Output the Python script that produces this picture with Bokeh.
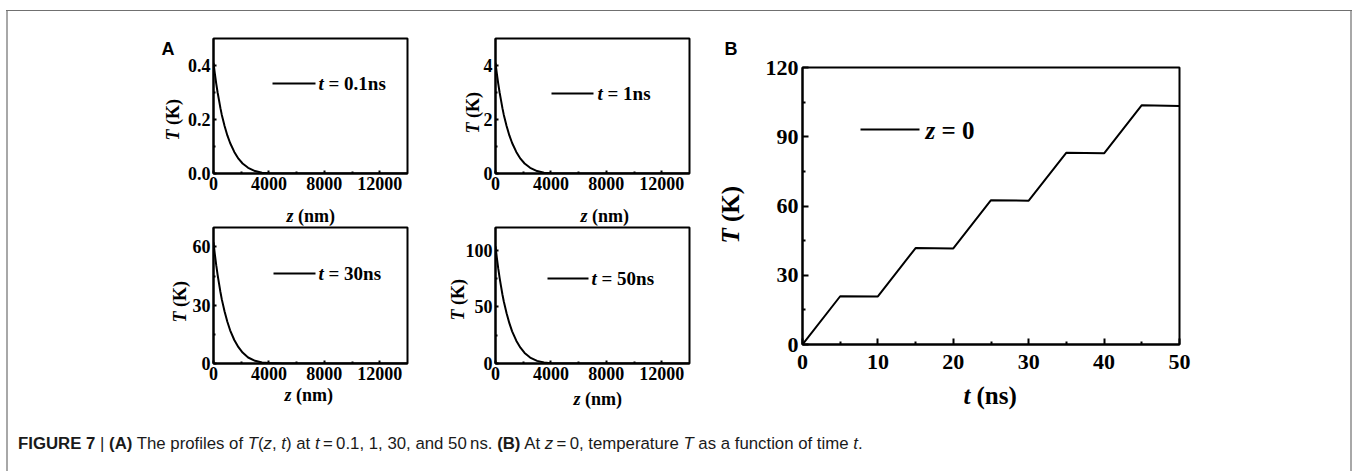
import math
from bokeh.plotting import figure
from bokeh.layouts import row, column
from bokeh.models import (Range1d, FixedTicker, PrintfTickFormatter, Label,
                          Arrow, Div, Spacer, GridBox)
from bokeh.embed import file_html
from bokeh.resources import INLINE

# ---- (A) temperature profiles T(z, t) ----
z_nm = [0, 100, 200, 300, 400, 500, 600, 800, 1000, 1200, 1500, 1800, 2100,
        2500, 3000, 3500, 4000, 5000, 7000, 10000, 14000]
T_t01 = [0.41, 0.369, 0.332, 0.299, 0.271, 0.242, 0.217, 0.176, 0.141, 0.113,
         0.080, 0.055, 0.037, 0.021, 0.009, 0.003, 0.001, 0.0002, 0, 0, 0]
T_t1 = [4.1, 3.69, 3.32, 2.99, 2.71, 2.42, 2.17, 1.76, 1.41, 1.13, 0.80, 0.55,
        0.37, 0.21, 0.09, 0.03, 0.01, 0.002, 0, 0, 0]
T_t30 = [62.3, 56.1, 50.5, 45.5, 41.1, 36.8, 33.0, 26.8, 21.5, 17.1, 12.1, 8.4,
         5.6, 3.1, 1.4, 0.5, 0.2, 0.03, 0, 0, 0]
T_t50 = [103.3, 93.0, 83.7, 75.4, 68.1, 60.9, 54.7, 44.4, 35.6, 28.4, 20.1,
         13.9, 9.3, 5.2, 2.3, 0.8, 0.3, 0.05, 0, 0, 0]
z_ticks = [0, 4000, 8000, 12000]
z_minor = [2000, 6000, 10000]

# ---- (B) surface temperature T(0, t) ----
t_ns = [0, 5, 10, 15, 20, 25, 30, 35, 40, 45, 50]
T_surface = [0, 20.9, 20.8, 41.8, 41.6, 62.5, 62.3, 83.1, 82.8, 103.7, 103.3]
t_ticks = [0, 10, 20, 30, 40, 50]
t_minor = [5, 15, 25, 35, 45]
TB_ticks = [0, 30, 60, 90, 120]
TB_minor = [15, 45, 75, 105]

SERIF = "Liberation Serif"
ORIGINS = {}          # window position (left, bottom) of each plot frame
PAGE = (8, 11)        # window position of the content block


def base_fig(x_end, y_end, fw, fh, left, right, top, bottom, origin):
    p = figure(frame_width=fw, frame_height=fh,
               min_border_left=left, min_border_right=right,
               min_border_top=top, min_border_bottom=bottom,
               x_range=Range1d(0, x_end), y_range=Range1d(0, y_end),
               toolbar_location=None, tools="", output_backend="svg")
    p.grid.visible = False
    p.outline_line_color = "black"
    p.outline_line_width = 2
    p.outline_line_alpha = 1
    p.background_fill_color = "white"
    p.border_fill_color = "white"
    ORIGINS[id(p)] = origin
    return p


def style_axes(p, size, major_in, minor_in, xs, ys):
    for ax in (p.xaxis[0], p.yaxis[0]):
        ax.axis_line_width = 2
        ax.major_tick_in = major_in
        ax.major_tick_out = 0
        ax.minor_tick_in = minor_in
        ax.minor_tick_out = 0
        ax.major_tick_line_width = 2
        ax.minor_tick_line_width = 2
        ax.major_label_text_font = SERIF
        ax.major_label_text_font_style = "bold"
        ax.major_label_text_font_size = size
        ax.major_label_text_color = "black"
    p.xaxis[0].major_label_standoff = xs
    p.yaxis[0].major_label_standoff = ys


def put_in(p, X, Y, text, size, style="bold"):
    """Text inside a plot frame, placed in window pixels."""
    left, bottom = ORIGINS[id(p)]
    p.add_layout(Label(x=X - left, y=bottom - Y, x_units="screen",
                       y_units="screen", text=text, text_font=SERIF,
                       text_font_style=style, text_font_size=size,
                       text_color="black", text_align="left",
                       text_baseline="middle"))


def seg(p, X1, X2, Y):
    left, bottom = ORIGINS[id(p)]
    p.add_layout(Arrow(start=None, end=None, x_start=X1 - left,
                       y_start=bottom - Y, x_end=X2 - left, y_end=bottom - Y,
                       start_units="screen", end_units="screen",
                       line_color="black", line_width=2))


def profile_panel(values, y_end, y_ticks, y_minor, fh, left, right, top,
                  bottom, origin, fmt=None):
    p = base_fig(14000, y_end, 194, fh, left, right, top, bottom, origin)
    p.line(z_nm, values, line_color="black", line_width=2)
    p.xaxis[0].ticker = FixedTicker(ticks=z_ticks, minor_ticks=z_minor)
    p.yaxis[0].ticker = FixedTicker(ticks=y_ticks, minor_ticks=y_minor)
    if fmt:
        p.yaxis[0].formatter = PrintfTickFormatter(format=fmt)
    style_axes(p, "18px", 3, 2, 3, 3)
    return p


fA1 = profile_panel(T_t01, 0.5, [0, 0.2, 0.4], [0.1, 0.3], 135, 205, 8, 27,
                    49, (213, 173), fmt="%.1f")
fA2 = profile_panel(T_t1, 5, [0, 2, 4], [1, 3], 135, 80, 51, 27, 49,
                    (495, 173))
fA3 = profile_panel(T_t30, 70, [0, 30, 60], [15, 45], 136, 205, 8, 5, 42,
                    (213, 363))
fA4 = profile_panel(T_t50, 120, [0, 50, 100], [25, 75], 136, 80, 51, 5, 42,
                    (495, 363))

# in-frame legends of (A)
for p, leg, txt in [(fA1, (272, 315, 83, 318), "= 0.1ns"),
                    (fA2, (551, 593, 93, 597), "= 1ns"),
                    (fA3, (273, 315, 273, 318), "= 30ns"),
                    (fA4, (547, 588, 278, 591), "= 50ns")]:
    seg(p, leg[0], leg[1], leg[2])
    put_in(p, leg[3], leg[2], "t", "19px", "bold italic")
    put_in(p, leg[3] + 10, leg[2], txt, "19px", "bold")

colA = column(row(fA1, fA2), row(fA3, fA4))

# ---- panel (B) ----
fB = base_fig(50, 120, 377, 277, 62, 171, 56, 66, (802, 344))
fB.line(t_ns, T_surface, line_color="black", line_width=2)
fB.xaxis[0].ticker = FixedTicker(ticks=t_ticks, minor_ticks=t_minor)
fB.yaxis[0].ticker = FixedTicker(ticks=TB_ticks, minor_ticks=TB_minor)
style_axes(fB, "22px", 6, 3, 10, 4)
seg(fB, 860, 919, 129)
put_in(fB, 925, 130, "z", "25px", "bold italic")
put_in(fB, 925 + 16, 130, "= 0", "25px", "bold")

caption = Div(
    width=1342, height=61, margin=(0, 0, 0, 0),
    text=('<div style="padding:24px 0 0 10px;font-family:\'Liberation Sans\','
          'Arial,sans-serif;font-size:16.8px;line-height:19px;color:#1a1a1a;'
          'white-space:nowrap;">'
          '<b>FIGURE 7</b> | <b>(A)</b> The profiles of <i>T</i>(<i>z</i>, '
          '<i>t</i>) at <i>t</i>&#8201;=&#8201;0.1, 1, 30, and 50&#8201;ns. '
          '<b>(B)</b> At <i>z</i>&#8201;=&#8201;0, temperature <i>T</i> as a '
          'function of time <i>t</i>.</div>'))

content = column(row(colA, fB), caption)

# transparent sheet laid over the panels for the titles outside the frames
sheet = figure(frame_width=1342, frame_height=460, min_border=0,
               x_range=Range1d(0, 1342), y_range=Range1d(460, 0),
               x_axis_location=None, y_axis_location=None,
               toolbar_location=None, tools="", output_backend="svg")
sheet.grid.visible = False
sheet.outline_line_color = None
sheet.background_fill_color = None
sheet.border_fill_color = None


def put(X, Y, text, size, style="bold", angle=0.0, baseline="middle",
        font=SERIF):
    sheet.add_layout(Label(x=X - PAGE[0], y=Y - PAGE[1], text=text,
                           text_font=font, text_font_style=style,
                           text_font_size=size, text_color="black",
                           angle=angle, text_align="left",
                           text_baseline=baseline))


put(161, 48, "A", "18px", baseline="alphabetic", font="Liberation Sans")
put(724, 48, "B", "18px", baseline="alphabetic", font="Liberation Sans")
for ylab, xlab in [((172, 140), (286, 215)), ((472, 133), (580, 215)),
                   ((179, 322), (284, 394)), ((457, 320), (573, 398))]:
    put(ylab[0], ylab[1], "T", "18px", "bold italic", math.pi / 2)
    put(ylab[0], ylab[1] - 15.5, "(K)", "18px", "bold", math.pi / 2)
    put(xlab[0], xlab[1], "z", "18px", "bold italic")
    put(xlab[0] + 11.5, xlab[1], "(nm)", "18px", "bold")
put(730, 243, "T", "25px", "bold italic", math.pi / 2)
put(730, 243 - 21.5, "(K)", "25px", "bold", math.pi / 2)
put(963, 395, "t", "25px", "bold italic")
put(963 + 13, 395, "(ns)", "25px", "bold")

stack = GridBox(children=[(content, 0, 0), (sheet, 0, 0)])

left_line = Div(width=2, height=460, margin=(0, 0, 0, 0),
                styles={"background-color": "#a8a8a8"})
right_line = Div(width=2, height=460, margin=(0, 0, 0, 0),
                 styles={"background-color": "#a8a8a8"})
top_line = Div(width=1346, height=1, margin=(0, 0, 0, 0),
               styles={"background-color": "#707070"})

page = column(Spacer(width=1352, height=10),
              row(Spacer(width=6, height=1), top_line),
              row(Spacer(width=6, height=460), left_line, stack, right_line))

open("out.html", "w").write(file_html(page, INLINE))
